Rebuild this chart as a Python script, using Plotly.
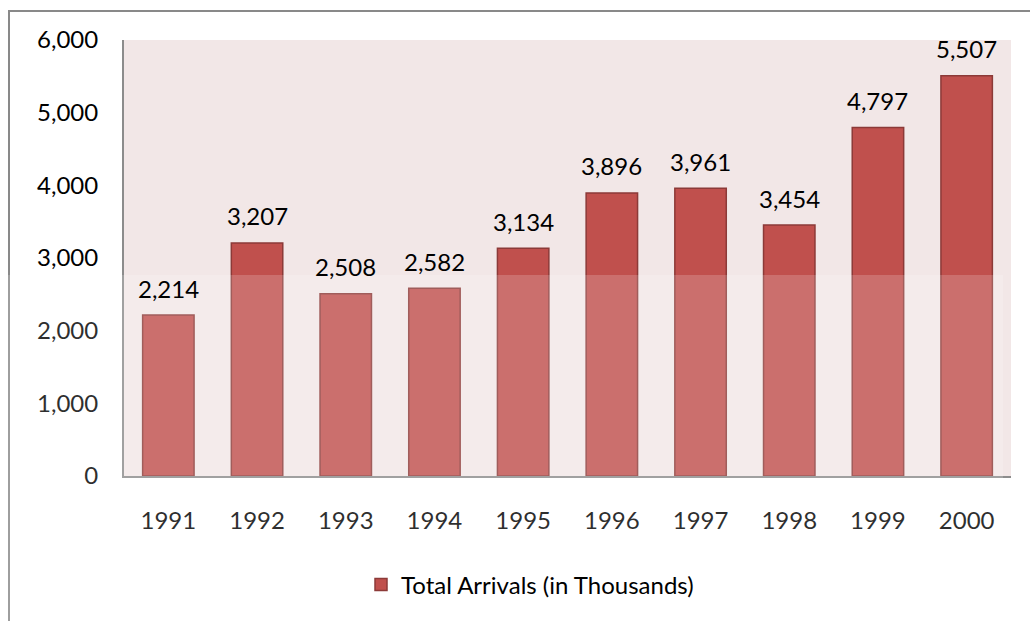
import plotly.graph_objects as go

# Annual tourist arrivals, in thousands
years = ["1991", "1992", "1993", "1994", "1995", "1996", "1997", "1998", "1999", "2000"]
arrivals = [2214, 3207, 2508, 2582, 3134, 3896, 3961, 3454, 4797, 5507]
y_ticks = [0, 1000, 2000, 3000, 4000, 5000, 6000]
series_name = "Total Arrivals (in Thousands)"

W, H = 1030, 621
L, R, T, B = 124, 19, 40, 145
pw, ph = W - L - R, H - T - B


def px_x(p):
    return (p - L) / pw


def px_y(p):
    return (H - B - p) / ph


FONT = "Lato, 'Open Sans', sans-serif"
FS = 24

fig = go.Figure(
    go.Bar(
        x=years,
        y=arrivals,
        name=series_name,
        marker=dict(color="#c0504d", line=dict(color="#8c3a38", width=1.5)),
        showlegend=True,
    )
)

# value labels above each bar (category index positions)
for i, v in enumerate(arrivals):
    fig.add_annotation(
        x=i, y=v, text=f"{v:,}", showarrow=False,
        yanchor="middle", yshift=27,
        font=dict(family=FONT, size=FS, color="#000000"),
    )

# outer chart frame
fig.add_shape(
    type="rect", xref="paper", yref="paper",
    x0=px_x(9), x1=px_x(1045), y0=px_y(640), y1=px_y(11),
    line=dict(color="#898989", width=2), fillcolor="rgba(0,0,0,0)", layer="below",
)
# light haze over the lower part of the chart
fig.add_shape(
    type="rect", xref="paper", yref="paper",
    x0=px_x(0), x1=px_x(1003), y0=px_y(640), y1=px_y(275),
    line=dict(width=0), fillcolor="rgba(255,255,255,0.18)", layer="above",
)

fig.update_layout(
    width=W, height=H,
    margin=dict(l=L, r=R, t=T, b=B, pad=0),
    paper_bgcolor="#ffffff",
    plot_bgcolor="#f2e7e7",
    bargap=0.42,
    font=dict(family=FONT, size=FS, color="#000000"),
    legend=dict(
        orientation="h", x=px_x(530), xanchor="center", y=px_y(585), yanchor="middle",
        font=dict(family=FONT, size=FS), itemwidth=30, bgcolor="rgba(0,0,0,0)",
    ),
    xaxis=dict(
        type="category", range=[-0.5, len(years) - 0.5],
        showgrid=False, showline=True, linecolor="#8c8c8c", linewidth=2,
        ticks="outside", ticklen=22, tickcolor="rgba(0,0,0,0)",
        tickfont=dict(size=FS),
    ),
    yaxis=dict(
        range=[0, 6000], tickvals=y_ticks, tickformat=",",
        showgrid=False, zeroline=False, showline=True, linecolor="#8c8c8c", linewidth=2,
        ticks="outside", ticklen=19, tickcolor="rgba(0,0,0,0)",
        tickfont=dict(size=FS),
    ),
)

fig.write_html("out.html")
